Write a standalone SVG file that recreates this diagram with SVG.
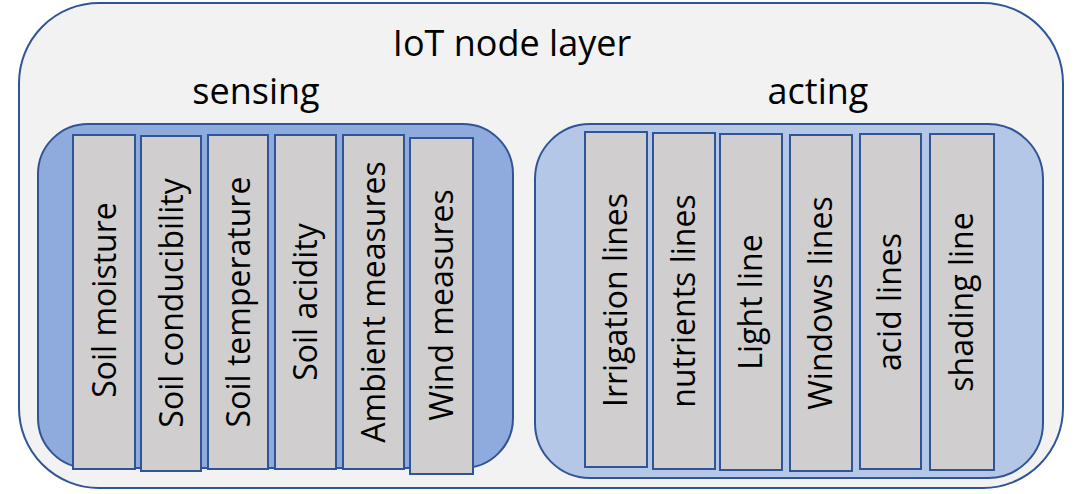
<svg xmlns="http://www.w3.org/2000/svg" width="1074" height="494" viewBox="0 0 1074 494">
<style>
.t{font-family:"Open Sans","Liberation Sans",sans-serif;fill:#000;}
.h{font-size:36px;text-anchor:middle;}
.v{font-size:32px;text-anchor:middle;}
.bar{fill:#d0cece;stroke:#2f5597;stroke-width:2;}
</style>
<g id="layer">
<rect x="19" y="3" width="1044" height="485" rx="80" ry="80" fill="#f2f2f2" stroke="#2f5597" stroke-width="2"/>
<text class="t h" x="512" y="56">IoT node layer</text>
</g>
<g id="sensing">
<text class="t h" x="256" y="104">sensing</text>
<rect x="38" y="124" width="475" height="344" rx="50" ry="50" fill="#8faadc" stroke="#2f5597" stroke-width="2"/>
</g>
<g id="acting">
<text class="t h" x="818" y="104">acting</text>
<rect x="535" y="124" width="508" height="354" rx="55" ry="55" fill="#b4c7e7" stroke="#2f5597" stroke-width="2"/>
</g>
<g id="s1"><rect class="bar" x="73" y="135" width="62" height="334"/><text class="t v" transform="translate(116,300) rotate(-90)">Soil moisture</text></g>
<g id="s2"><rect class="bar" x="141" y="136" width="60" height="335"/><text class="t v" transform="translate(183,303) rotate(-90)">Soil conducibility</text></g>
<g id="s3"><rect class="bar" x="208" y="135" width="60" height="334"/><text class="t v" transform="translate(250,302) rotate(-90)">Soil temperature</text></g>
<g id="s4"><rect class="bar" x="275" y="135" width="61" height="334"/><text class="t v" transform="translate(317,302) rotate(-90)">Soil acidity</text></g>
<g id="s5"><rect class="bar" x="343" y="135" width="61" height="334"/><text class="t v" transform="translate(385,302) rotate(-90)">Ambient measures</text></g>
<g id="s6"><rect class="bar" x="410" y="138" width="63" height="336"/><text class="t v" transform="translate(453,305) rotate(-90)">Wind measures</text></g>
<g id="a1"><rect class="bar" x="585" y="132" width="62" height="335"/><text class="t v" transform="translate(627,300) rotate(-90)">Irrigation lines</text></g>
<g id="a2"><rect class="bar" x="653" y="133" width="62" height="336"/><text class="t v" transform="translate(695,301) rotate(-90)">nutrients lines</text></g>
<g id="a3"><rect class="bar" x="720" y="134" width="62" height="336"/><text class="t v" transform="translate(762,302) rotate(-90)">Light line</text></g>
<g id="a4"><rect class="bar" x="790" y="135" width="62" height="336"/><text class="t v" transform="translate(832,303) rotate(-90)">Windows lines</text></g>
<g id="a5"><rect class="bar" x="860" y="134" width="61" height="335"/><text class="t v" transform="translate(901,302) rotate(-90)">acid lines</text></g>
<g id="a6"><rect class="bar" x="930" y="134" width="64" height="336"/><text class="t v" transform="translate(973,302) rotate(-90)">shading line</text></g>
<g id="connectors"/>
</svg>
